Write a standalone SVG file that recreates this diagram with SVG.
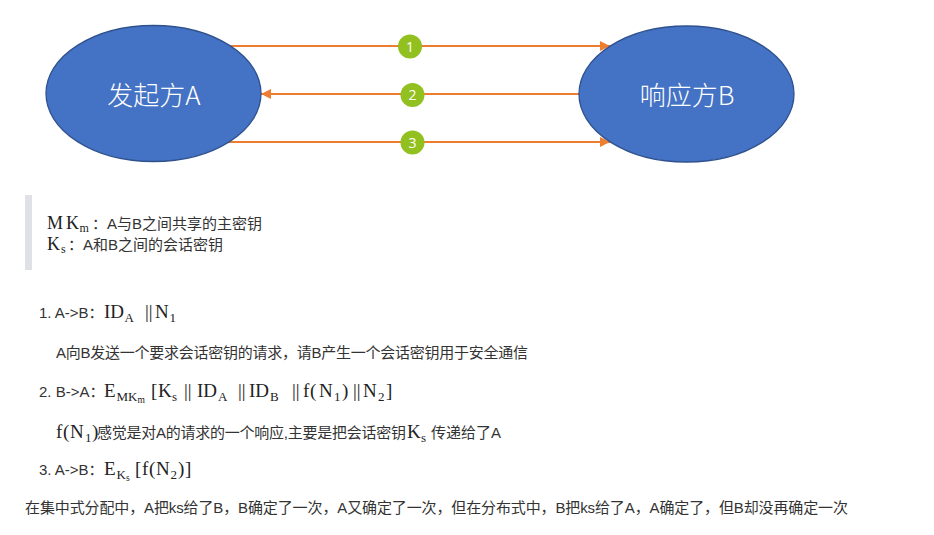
<svg xmlns="http://www.w3.org/2000/svg" width="934" height="535" viewBox="0 0 934 535">
  <style>
    .node-shape { fill: #4472C4; stroke: #2F528F; stroke-width: 1.3; }
    .node-label { font-family: "Noto Sans CJK SC", sans-serif; font-size: 26px; font-weight: 300; fill: #ffffff; text-anchor: middle; }
    .flow { stroke: #ED7D31; stroke-width: 2; fill: none; }
    .step { fill: #92C01F; }
    .step-num { font-family: "Open Sans", "Noto Sans", sans-serif; font-size: 14px; fill: #ffffff; text-anchor: middle; }
    .txt { font-family: "Liberation Sans", "Noto Sans CJK SC", sans-serif; font-size: 15px; fill: #333333; }
    .m { font-family: "Liberation Serif", serif; font-size: 19px; fill: #222222; }
    .ms { font-family: "Liberation Serif", serif; font-size: 13px; fill: #222222; }
    .mss { font-family: "Liberation Serif", serif; font-size: 9.5px; fill: #222222; }
    .mq { font-family: "Liberation Serif", serif; font-size: 18px; fill: #222222; }
    .mqs { font-family: "Liberation Serif", serif; font-size: 12px; fill: #222222; }
  </style>
  <defs>
    <marker id="arrow" viewBox="0 0 10 10" refX="10" refY="5" markerWidth="5" markerHeight="5" orient="auto" markerUnits="strokeWidth">
      <path d="M0,0 L10,5 L0,10 z" fill="#ED7D31"/>
    </marker>
  </defs>

  <rect width="934" height="535" fill="#ffffff"/>

  <!-- connectors between the two parties -->
  <g id="connectors">
    <line class="flow" x1="228" y1="46" x2="610" y2="46" marker-end="url(#arrow)"/>
    <line class="flow" x1="579" y1="94" x2="261" y2="94" marker-end="url(#arrow)"/>
    <line class="flow" x1="228" y1="142" x2="610" y2="142" marker-end="url(#arrow)"/>
  </g>

  <g id="node-a">
    <ellipse class="node-shape" cx="153.5" cy="93.5" rx="107.5" ry="68"/>
    <text class="node-label" x="154" y="105">发起方A</text>
  </g>

  <g id="node-b">
    <ellipse class="node-shape" cx="686.5" cy="94" rx="107.5" ry="68"/>
    <text class="node-label" x="687" y="105">响应方B</text>
  </g>

  <!-- step badges on the connectors -->
  <g id="step-1">
    <circle class="step" cx="410" cy="46.5" r="12"/>
    <text class="step-num" x="410" y="51.5">1</text>
  </g>
  <g id="step-2">
    <circle class="step" cx="412.5" cy="95" r="12"/>
    <text class="step-num" x="412.5" y="100">2</text>
  </g>
  <g id="step-3">
    <circle class="step" cx="412.5" cy="142.5" r="12"/>
    <text class="step-num" x="412.5" y="147.5">3</text>
  </g>

  <!-- key definitions -->
  <g id="notes">
    <rect x="25" y="195" width="7" height="75" fill="#dfe1e6"/>
    <text class="mq" x="47" y="229">M</text>
    <text class="mq" x="66" y="229">K</text>
    <text class="mqs" x="79.5" y="232">m</text>
    <text class="txt" x="92" y="229">：A与B之间共享的主密钥</text>
    <text class="mq" x="47" y="250">K</text>
    <text class="mqs" x="61" y="253">s</text>
    <text class="txt" x="68" y="250">：A和B之间的会话密钥</text>
  </g>

  <!-- protocol steps -->
  <g id="protocol">
    <!-- step 1 -->
    <text class="txt" x="39" y="318">1. A-&gt;B：</text>
    <text class="m" x="104" y="318">ID</text>
    <text class="ms" x="124.5" y="322">A</text>
    <text class="m" x="145" y="318">||</text>
    <text class="m" x="155" y="318">N</text>
    <text class="ms" x="169.5" y="322">1</text>

    <text class="txt" x="56" y="358" textLength="472" lengthAdjust="spacing">A向B发送一个要求会话密钥的请求，请B产生一个会话密钥用于安全通信</text>

    <!-- step 2 -->
    <text class="txt" x="39" y="397">2. B-&gt;A：</text>
    <text class="m" x="104" y="397">E</text>
    <text class="ms" x="116.5" y="401">MK</text>
    <text class="mss" x="137.5" y="403">m</text>
    <text class="m" x="151" y="397">[</text>
    <text class="m" x="158" y="397">K</text>
    <text class="ms" x="172" y="401">s</text>
    <text class="m" x="184" y="397">||</text>
    <text class="m" x="197" y="397">ID</text>
    <text class="ms" x="218" y="401">A</text>
    <text class="m" x="238" y="397">||</text>
    <text class="m" x="249" y="397">ID</text>
    <text class="ms" x="270" y="401">B</text>
    <text class="m" x="292" y="397">||</text>
    <text class="m" x="303" y="397">f</text>
    <text class="m" x="310" y="397">(</text>
    <text class="m" x="319" y="397">N</text>
    <text class="ms" x="334" y="401">1</text>
    <text class="m" x="342" y="397">)</text>
    <text class="m" x="353" y="397">||</text>
    <text class="m" x="363" y="397">N</text>
    <text class="ms" x="378" y="401">2</text>
    <text class="m" x="386" y="397">]</text>

    <text class="m" x="56" y="438">f</text>
    <text class="m" x="63" y="438">(</text>
    <text class="m" x="70" y="438">N</text>
    <text class="ms" x="85" y="442">1</text>
    <text class="m" x="92" y="438">)</text>
    <text class="txt" x="97" y="438" textLength="309" lengthAdjust="spacing">感觉是对A的请求的一个响应,主要是把会话密钥</text>
    <text class="m" x="407" y="438">K</text>
    <text class="ms" x="421" y="442">s</text>
    <text class="txt" x="431" y="438">传递给了A</text>

    <!-- step 3 -->
    <text class="txt" x="39" y="475">3. A-&gt;B：</text>
    <text class="m" x="104" y="475">E</text>
    <text class="ms" x="116.5" y="479">K</text>
    <text class="mss" x="126" y="481">s</text>
    <text class="m" x="135" y="475">[</text>
    <text class="m" x="142" y="475">f</text>
    <text class="m" x="149" y="475">(</text>
    <text class="m" x="156" y="475">N</text>
    <text class="ms" x="170.5" y="479">2</text>
    <text class="m" x="178" y="475">)</text>
    <text class="m" x="185" y="475">]</text>
  </g>

  <text class="txt" x="25" y="513" textLength="823" lengthAdjust="spacing">在集中式分配中，A把ks给了B，B确定了一次，A又确定了一次，但在分布式中，B把ks给了A，A确定了，但B却没再确定一次</text>
</svg>
